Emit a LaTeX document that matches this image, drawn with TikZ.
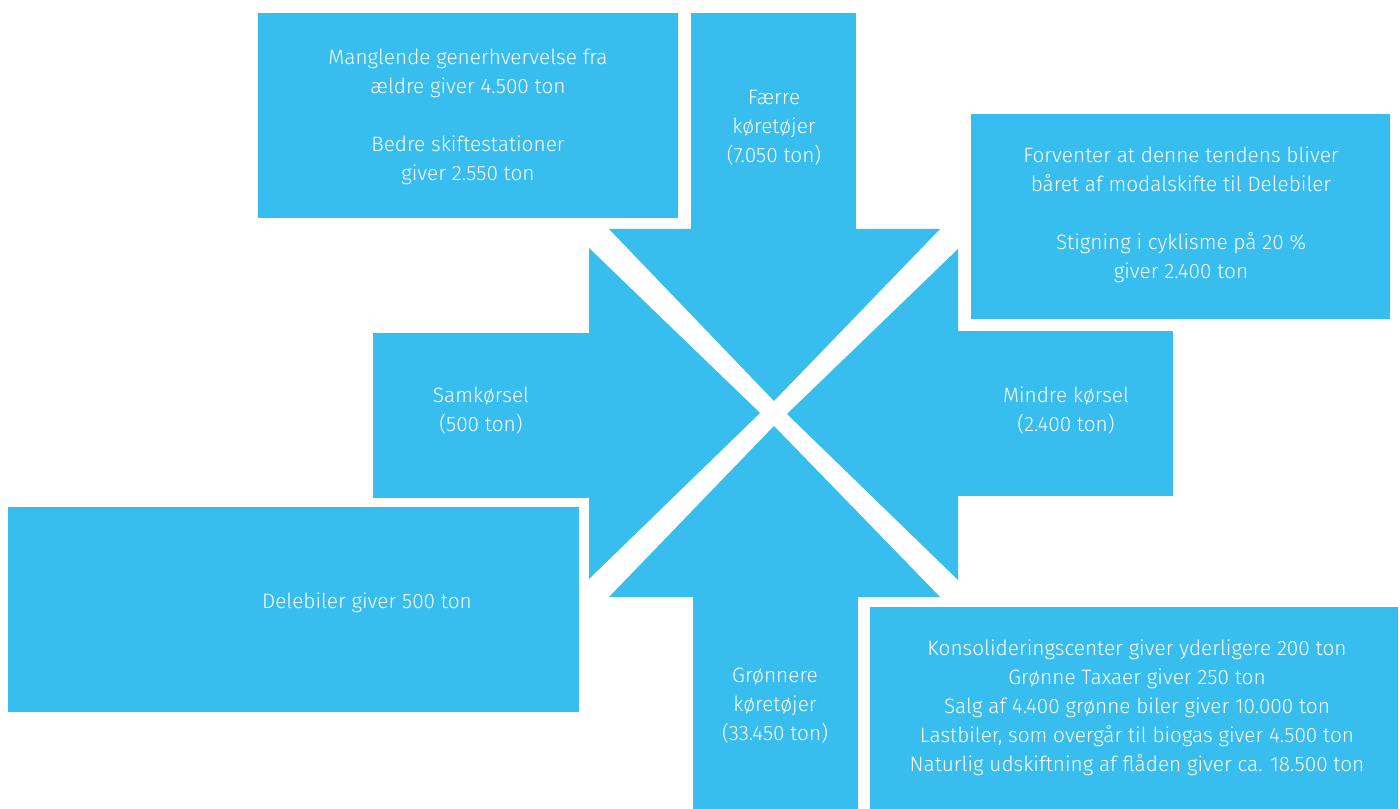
\documentclass[tikz,border=0pt]{standalone}
\usepackage{fontspec}
\setmainfont{Fira Sans Light}
\definecolor{skyblue}{RGB}{56,189,239}

\tikzset{every picture/.style={line width=0.75pt}}
\tikzset{
  box/.style={fill=skyblue},
  boxtext/.style={text=white,align=center,font=\fontsize{15.6}{21.75}\selectfont}
}

\begin{document}
\begin{tikzpicture}[x=0.75pt,y=0.75pt,yscale=-1,xscale=1]
\useasboundingbox (0,0) rectangle (1400,809);

%Shape: Rectangle [id:top left note]
\fill [box] (258,13) rectangle (678,218);
%Shape: Rectangle [id:top right note]
\fill [box] (971,114) rectangle (1390,319);
%Shape: Rectangle [id:bottom left note]
\fill [box] (8,507) rectangle (579,712);
%Shape: Rectangle [id:bottom right note]
\fill [box] (870,607) rectangle (1398,809);

%Shape: Arrow top [id:faerre]
\fill [box] (691,13) rectangle (856,230);
\fill [box] (609,229) -- (940,229) -- (774,401) -- cycle;
%Shape: Arrow left [id:samkoersel]
\fill [box] (373,333) rectangle (590,498);
\fill [box] (589,248) -- (589,579) -- (760,413) -- cycle;
%Shape: Arrow right [id:mindre]
\fill [box] (957,331) rectangle (1173,496);
\fill [box] (958,249) -- (958,580) -- (787,414) -- cycle;
%Shape: Arrow bottom [id:groennere]
\fill [box] (693,596) rectangle (858,809);
\fill [box] (609,597) -- (940,597) -- (774,426) -- cycle;

% Text Node
\draw (468,117) node [boxtext] (alder) {Manglende generhvervelse fra\\ældre giver 4.500 ton\\[21.75pt]Bedre skiftestationer\\giver 2.550 ton};
% Text Node
\draw (774,128) node [boxtext] (faerre) {Færre\\køretøjer\\(7.050 ton)};
% Text Node
\draw (1181,215) node [boxtext] (cykel) {Forventer at denne tendens bliver\\båret af modalskifte til Delebiler\\[21.75pt]Stigning i cyklisme på 20 \%\\giver 2.400 ton};
% Text Node
\draw (481,411) node [boxtext] (samk) {Samkørsel\\(500 ton)};
% Text Node
\draw (1066,411) node [boxtext] (mindre) {Mindre kørsel\\(2.400 ton)};
% Text Node
\draw (367,603) node [boxtext] (dele) {Delebiler giver 500 ton};
% Text Node
\draw (775,706) node [boxtext] (groen) {Grønnere\\køretøjer\\(33.450 ton)};
% Text Node
\draw (1137,708) node [boxtext] (biler) {Konsolideringscenter giver yderligere 200 ton\\Grønne Taxaer giver 250 ton\\Salg af 4.400 grønne biler giver 10.000 ton\\Lastbiler, som overgår til biogas giver 4.500 ton\\Naturlig udskiftning af flåden giver ca. 18.500 ton};

\end{tikzpicture}
\end{document}
